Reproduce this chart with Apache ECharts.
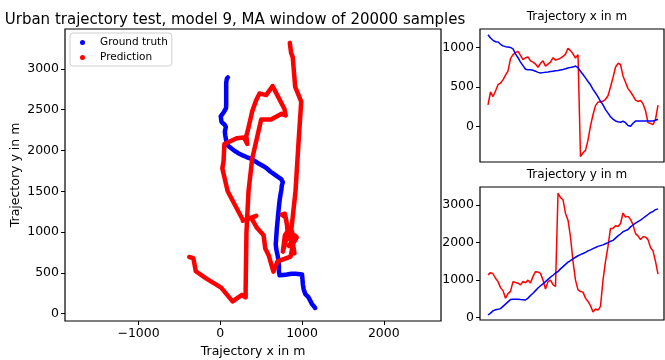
<!DOCTYPE html>
<html>
<head>
<meta charset="utf-8">
<script src="https://cdn.jsdelivr.net/npm/echarts@6/dist/echarts.min.js"></script>
<style>
  html, body { margin: 0; padding: 0; background: #fff; }
  #chart { width: 665px; height: 360px; }
</style>
</head>
<body>
<div id="chart"></div>
<script>
// sample index along the run (shared by all four series)
const gtX = [1161, 1120, 1090, 1072, 1068, 1040, 1020, 1010, 1005, 1000, 983, 920, 870, 815, 770, 725, 717, 717, 712, 700,
  685, 678, 682, 686, 690, 695, 700, 705, 709, 716, 722, 730, 740, 748, 752, 765, 745, 700, 658, 615,
  570, 528, 470, 425, 375, 320, 275, 215, 170, 125, 95, 72, 62, 55, 68, 50, 15, 5, 43, 70,
  72, 72, 72, 72, 72, 72, 72, 80, 93];
const gtY = [70, 120, 180, 210, 220, 240, 300, 360, 420, 480, 490, 489, 489, 480, 475, 470, 520, 590, 650, 720,
  790, 850, 900, 960, 1020, 1080, 1130, 1190, 1230, 1300, 1360, 1420, 1480, 1520, 1570, 1610, 1650, 1680, 1710, 1740,
  1780, 1808, 1840, 1870, 1900, 1920, 1940, 1970, 2000, 2035, 2060, 2120, 2180, 2230, 2290, 2320, 2350, 2420, 2470, 2520,
  2560, 2600, 2650, 2700, 2750, 2800, 2830, 2880, 2896];
const predX = [275, 440, 380, 450, 530, 550, 590, 650, 700, 860, 910, 935, 950, 900, 845, 870, 880, 830, 815, 790,
  750, 800, 830, 765, 790, 815, 870, 840, 850, 866, 886, 916, 990, 960, 920, 866, 907, -380, -330, -300,
  -170, 10, 150, 265, 310, 310, 320, 345, 390, 500, 620, 750, 800, 785, 640, 560, 480, 440, 390, 335,
  318, 330, 290, 200, 50, 40, 25, 90, 270];
const predY = [1140, 1200, 1170, 1050, 960, 800, 720, 516, 640, 700, 960, 936, 917, 872, 963, 930, 1000, 920, 1100, 1225,
  1215, 1180, 1000, 760, 960, 1000, 880, 830, 3320, 3200, 3145, 2780, 2600, 2150, 1500, 1000, 740, 695, 680, 520,
  430, 320, 150, 230, 200, 300, 1000, 1500, 1900, 2380, 2380, 2450, 2430, 2510, 2790, 2680, 2700, 2620, 2480, 2240,
  2180, 2080, 2160, 2150, 2080, 1870, 1780, 1500, 1160];
// jumps in the prediction where the path is not continuous
const predBreaks = [28, 37];

const mainXTicks = [-1000, 0, 1000, 2000];
const mainYTicks = [0, 500, 1000, 1500, 2000, 2500, 3000];
const xSeriesTicks = [0, 500, 1000];
const ySeriesTicks = [0, 1000, 2000, 3000];

const FONT = "DejaVu Sans";
const BLUE = "#0000ff";
const RED = "#ff0000";

function path(xs, ys, breaks) {
  const out = [];
  xs.forEach((x, i) => {
    if (breaks && breaks.includes(i)) out.push(["-", "-"]);
    out.push([x, ys[i]]);
  });
  return out;
}
const indexed = (vals) => vals.map((v, i) => [i, v]);
const fmt = (v) => String(v).replace("-", "\u2212");

const tickLabel = { color: "#000", fontFamily: FONT, fontSize: 12.5, margin: 6, formatter: fmt };
const tick = { show: true, inside: false, length: 4, lineStyle: { color: "#000", width: 1 } };
const noLine = { show: false, onZero: false };

function valueAxis(grid, min, max, ticks, extra) {
  return Object.assign({
    type: "value", gridIndex: grid, min, max,
    splitLine: { show: false }, axisLine: noLine,
    axisTick: { ...tick, customValues: ticks },
    axisLabel: { ...tickLabel, customValues: ticks },
  }, extra || {});
}

const gridBox = { show: true, borderColor: "#000", borderWidth: 1.2, backgroundColor: "#fff",
  containLabel: false, outerBoundsMode: "none" };

const chart = echarts.init(document.getElementById("chart"), null, { renderer: "canvas" });
chart.setOption({
  animation: false,
  title: [
    { text: "Urban trajectory test, model 9, MA window of 20000 samples", left: 230, top: 8, textAlign: "center",
      textStyle: { fontFamily: FONT, fontSize: 15, fontWeight: "normal", color: "#000" } },
    { text: "Trajectory x in m", left: 572, top: 6, textAlign: "center",
      textStyle: { fontFamily: FONT, fontSize: 12, fontWeight: "normal", color: "#000" } },
    { text: "Trajectory y in m", left: 572, top: 164, textAlign: "center",
      textStyle: { fontFamily: FONT, fontSize: 12, fontWeight: "normal", color: "#000" } },
  ],
  legend: {
    data: ["Ground truth", "Prediction"],
    orient: "vertical",
    left: 70, top: 33,
    itemWidth: 5, itemHeight: 5, itemGap: 2,
    icon: "circle",
    padding: [3, 4, 2, 10],
    borderColor: "#d0d0d0", borderWidth: 1, borderRadius: 3,
    textStyle: { fontFamily: FONT, fontSize: 10.5, color: "#000", lineHeight: 13, padding: [0, 0, 0, 10] },
  },
  grid: [
    { ...gridBox, left: 65, top: 29, width: 376, height: 292 },
    { ...gridBox, left: 480, top: 29, width: 184, height: 133 },
    { ...gridBox, left: 480, top: 187, width: 184, height: 133 },
  ],
  xAxis: [
    valueAxis(0, -1900, 2700, mainXTicks, {
      name: "Trajectory x in m", nameLocation: "middle", nameGap: 24, nameMoveOverlap: false,
      nameTextStyle: { fontFamily: FONT, fontSize: 12.5, color: "#000" } }),
    { type: "value", gridIndex: 1, min: -3.2, max: 70.4, show: false },
    { type: "value", gridIndex: 2, min: -3.2, max: 70.4, show: false },
  ],
  yAxis: [
    valueAxis(0, -90, 3490, mainYTicks, {
      name: "Trajectory y in m", nameLocation: "middle", nameGap: 43, nameRotate: 90, nameMoveOverlap: false,
      nameTextStyle: { fontFamily: FONT, fontSize: 12.5, color: "#000" } }),
    valueAxis(1, -447, 1233, xSeriesTicks),
    valueAxis(2, -64, 3484, ySeriesTicks),
  ],
  series: [
    { name: "Ground truth", type: "line", xAxisIndex: 0, yAxisIndex: 0, data: path(gtX, gtY),
      showSymbol: false, symbol: "circle", color: BLUE, lineStyle: { width: 4.5, color: BLUE, join: "round", cap: "round" } },
    { name: "Prediction", type: "line", xAxisIndex: 0, yAxisIndex: 0, data: path(predX, predY, predBreaks),
      connectNulls: false, showSymbol: false, symbol: "circle", color: RED,
      lineStyle: { width: 4.5, color: RED, join: "round", cap: "round" } },
    { type: "line", xAxisIndex: 1, yAxisIndex: 1, data: indexed(predX), showSymbol: false, color: RED,
      lineStyle: { width: 1.5, color: RED } },
    { type: "line", xAxisIndex: 1, yAxisIndex: 1, data: indexed(gtX), showSymbol: false, color: BLUE,
      lineStyle: { width: 1.5, color: BLUE } },
    { type: "line", xAxisIndex: 2, yAxisIndex: 2, data: indexed(predY), showSymbol: false, color: RED,
      lineStyle: { width: 1.5, color: RED } },
    { type: "line", xAxisIndex: 2, yAxisIndex: 2, data: indexed(gtY), showSymbol: false, color: BLUE,
      lineStyle: { width: 1.5, color: BLUE } },
  ],
});
</script>
</body>
</html>
